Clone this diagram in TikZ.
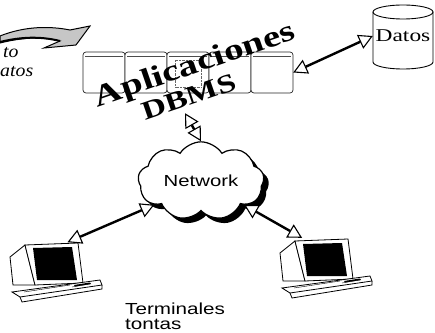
\documentclass[tikz,border=0pt]{standalone}
\usepackage{fontspec}
\setmainfont{Liberation Serif}
\setsansfont{Liberation Sans}
\usetikzlibrary{arrows.meta,shapes.symbols,shadows}

\tikzset{
  hollow/.tip={Triangle[fill=white,length=14pt,width=15pt,line width=1.1pt]},
  link/.style={line width=2.4pt,hollow-hollow},
  rack/.style={draw=black!85,fill=white,line width=0.7pt,rounded corners=3pt},
  terminal/.pic={
    % monitor case and screen
    \filldraw[fill=white,line width=0.8pt] (0,45) -- (15,57) -- (25,17) -- (3,17) -- cycle;
    \filldraw[fill=white,line width=0.8pt] (15,57) -- (68,59) -- (73,19) -- (25,17) -- cycle;
    \fill (23,54) -- (62,55) -- (67,22) -- (27,22) -- cycle;
    % keyboard
    \filldraw[fill=white,line width=0.8pt] (2,10) -- (90,22) -- (92,17) -- (10,5) -- cycle;
    \draw[line width=0.8pt] (10,5) -- (12,0) -- (92,13) -- (92,17);
    \draw (14,10) -- (60,17) (62,15) -- (80,18);
    \fill (64,17) -- (80,19.5) -- (81,18) -- (65,15.5) -- cycle;
  }
}

\begin{document}
\begin{tikzpicture}[x=1pt,y=1pt]
\useasboundingbox (0,0) rectangle (435,332);

% request arrow coming in from the left
\filldraw[fill=gray!45,draw=black,line width=1pt]
  (0,296) .. controls (25,306) and (50,306) .. (70,302) -- (90,306)
  -- (76,287) -- (44,284) -- (60,291) .. controls (40,296) and (20,294) .. (0,289) -- cycle;
\draw[line width=2pt] (0,290) .. controls (20,295) and (40,296) .. (60,291);
\node[anchor=base west,inner sep=0pt,font=\itshape\fontsize{18}{18}\selectfont] (req1) at (3,274) {\scalebox{1.1}[1]{to}};
\node[anchor=base west,inner sep=0pt,font=\itshape\fontsize{18}{18}\selectfont] (req2) at (0,255) {\scalebox{1.1}[1]{atos}};

% server row
\node[minimum width=210pt,minimum height=41pt,inner sep=0pt] (srv) at (188,259.5) {};
\foreach \x in {83,125,167,209,251} {
  \draw[rack] (\x,239) rectangle ++(42,41);
  \draw[black!70] (\x+2,276) -- (\x+40,276);
}
\draw[black!60,densely dotted] (175,245) rectangle (201,272);
\node[rotate=19,inner sep=0pt,font=\bfseries\fontsize{30}{30}\selectfont] (apps) at (195,266) {\scalebox{1.3}[1]{Aplicaciones}};
\node[rotate=19,inner sep=0pt,font=\bfseries\fontsize{26}{26}\selectfont] (dbms) at (189,235) {\scalebox{1.3}[1]{DBMS}};

% database
\draw[fill=white,line width=0.9pt] (373,320) -- (373,270) arc[start angle=180,end angle=360,x radius=30pt,y radius=7pt] -- (433,320);
\draw[line width=0.9pt] (403,320) ellipse [x radius=30pt,y radius=7pt];
\node[minimum width=60pt,minimum height=64pt,inner sep=0pt,font=\fontsize{18}{18}\selectfont] (datos) at (403,296) {\scalebox{1.3}[1]{Datos}};

% network
\node[cloud,cloud puffs=9,cloud puff arc=115,aspect=1.9,draw,line width=1.2pt,fill=white,
  minimum width=126pt,minimum height=68pt,
  drop shadow={fill=black,opacity=1,shadow xshift=5pt,shadow yshift=-5pt},
  font=\sffamily\fontsize{16}{16}\selectfont] (net) at (201,151) {\scalebox{1.27}[1]{Network}};

% terminals
\pic at (10,30) {terminal};
\node[minimum width=92pt,minimum height=58pt] (pcleft) at (56,59) {};
\pic at (280,34) {terminal};
\node[minimum width=92pt,minimum height=58pt] (pcright) at (326,63) {};
\node[anchor=north west,align=left,inner sep=0pt,font=\sffamily\fontsize{16}{15}\selectfont] (term) at (125,29.5)
  {\scalebox{1.29}[1]{Terminales}\\\scalebox{1.29}[1]{tontas}};

% links
\draw[link] (srv.east) -- (datos.west);
\draw[link] ([xshift=-3pt,yshift=-20pt]srv.south) -- (net.north);
\draw[link,shorten >=4pt] (net.207) -- (pcleft.75);
\draw[link,shorten >=4pt] (net.-29) -- (pcright.125);

\end{tikzpicture}
\end{document}
